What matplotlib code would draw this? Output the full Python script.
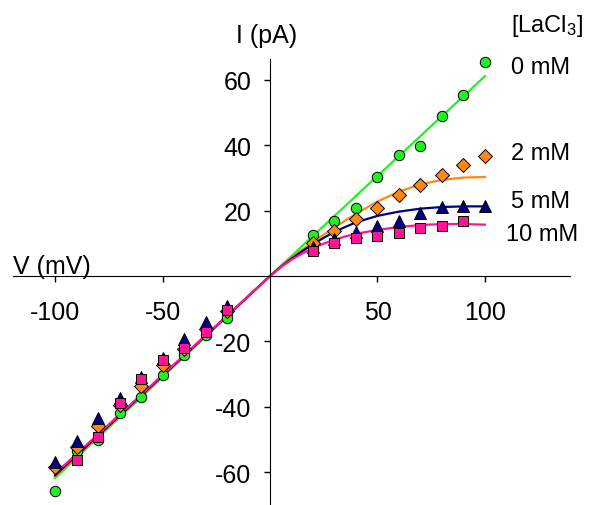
import numpy as np
import matplotlib
matplotlib.use("Agg")
import matplotlib.pyplot as plt

plt.rcParams['font.family'] = ['Liberation Sans', 'DejaVu Sans']
plt.rcParams['axes.unicode_minus'] = False
plt.rcParams['mathtext.fontset'] = 'custom'
plt.rcParams['mathtext.rm'] = 'Liberation Sans'
plt.rcParams['mathtext.it'] = 'Liberation Sans'

# measured points (mV, pA)
v = [-100, -90, -80, -70, -60, -50, -40, -30, -20, 20, 30, 40, 50, 60, 70, 80, 90, 100]
i_0mM = [-65.7, -53.6, -50.0, -42.0, -36.9, -30.3, -24.0, -18.0, -12.9,
         12.6, 16.9, 20.8, 30.2, 37.0, 39.8, 49.0, 55.4, 65.5]
i_2mM = [-58.5, -52.4, -45.8, -39.4, -33.7, -27.2, -22.3, -16.2, -10.6,
         10.0, 13.7, 17.4, 20.8, 24.8, 27.9, 30.9, 34.0, 36.8]
i_5mM = [-57.0, -50.5, -43.4, -37.2, -31.0, -25.0, -19.3, -14.0, -9.3,
         8.8, 11.3, 13.4, 15.4, 16.9, 19.3, 21.0, 21.5, 21.5]
v_10 = [-90, -80, -70, -60, -50, -40, -30, -20, 20, 30, 40, 50, 60, 70, 80, 90]
i_10mM = [-56.1, -49.3, -38.8, -31.5, -25.6, -22.1, -17.2, -10.3,
          7.6, 10.1, 11.5, 12.3, 13.1, 14.6, 15.4, 16.9]

# fitted curves
v_fit = [-100, -80, -60, -40, -20, 0, 5, 10, 15, 20, 25, 30, 35, 40, 50, 60, 70, 80, 90, 100]
fit_0mM = [-61.8, -49.4, -37.1, -24.7, -12.4, 0, 3.1, 6.1, 9.2, 12.3, 15.3, 18.4, 21.4,
           24.5, 30.6, 36.7, 42.8, 48.9, 55.0, 61.1]
fit_2mM = [-61.2, -49.0, -36.8, -24.5, -12.3, 0, 2.9, 5.6, 8.1, 10.4, 12.7, 14.8, 17.0,
           19.0, 22.8, 25.8, 28.0, 29.4, 30.1, 30.3]
fit_5mM = [-60.9, -48.8, -36.6, -24.4, -12.2, 0, 2.8, 5.3, 7.6, 9.7, 11.7, 13.5, 15.0,
           16.4, 18.4, 19.7, 20.6, 21.1, 21.3, 21.3]
fit_10mM = [-60.4, -48.4, -36.3, -24.2, -12.1, 0, 2.7, 5.0, 6.9, 8.5, 9.9, 11.1, 12.1,
            12.9, 14.1, 15.0, 15.6, 15.9, 15.9, 15.7]

labels = ["0 mM", "2 mM", "5 mM", "10 mM"]
green, orange, navy, pink = "#22f022", "#ff8811", "#000080", "#ff1493"

fig = plt.figure(figsize=(5.92, 5.06), dpi=100)
ax = fig.add_axes([0, 0, 1, 1])
ax.set_xlim(-125.6, 149.8)
ax.set_ylim(-70.0, 84.7)

ax.plot(v_fit, fit_0mM, color=green, lw=1.6, zorder=2)
ax.plot(v_fit, fit_2mM, color=orange, lw=1.6, zorder=2)
ax.plot(v_fit, fit_5mM, color=navy, lw=1.6, zorder=2)
ax.plot(v_fit, fit_10mM, color=pink, lw=1.6, zorder=2)

mk = dict(ls='none', mec='black', mew=0.7, zorder=3)
ax.plot(v, i_0mM, marker='o', ms=7.5, mfc=green, **mk)
ax.plot(v, i_2mM, marker='D', ms=7.2, mfc=orange, **mk)
ax.plot(v, i_5mM, marker='^', ms=9, mfc=navy, **mk)
ax.plot(v_10, i_10mM, marker='s', ms=7.5, mfc=pink, **mk)

for s in ['top', 'right']:
    ax.spines[s].set_visible(False)
ax.spines['left'].set_position(('data', 0))
ax.spines['bottom'].set_position(('data', 0))
ax.spines['left'].set_bounds(-70, 66.4)
ax.spines['bottom'].set_bounds(-119.5, 139.5)
ax.set_xticks([-100, -50, 50, 100])
ax.set_yticks([-60, -40, -20, 20, 40, 60])
ax.tick_params(direction='out', length=4.5, width=1, labelsize=18)
ax.tick_params(axis='x', pad=13)
ax.tick_params(axis='y', pad=9)

ax.text(-1.4, 71.6, "I (pA)", fontsize=18, ha='center', va='baseline')
ax.text(-119.5, 0.9, "V (mV)", fontsize=18, ha='left', va='baseline')
ax.text(128.8, 75.0, r"[LaCl$_\mathregular{3}$]", fontsize=17, ha='center', va='baseline')
for lab, x, y in zip(labels, [112.1, 112.1, 112.1, 109.8], [64.0, 37.5, 23.0, 12.9]):
    ax.text(x, y, lab, fontsize=17, ha='left', va='center')

fig.savefig("out.png", dpi=100)
